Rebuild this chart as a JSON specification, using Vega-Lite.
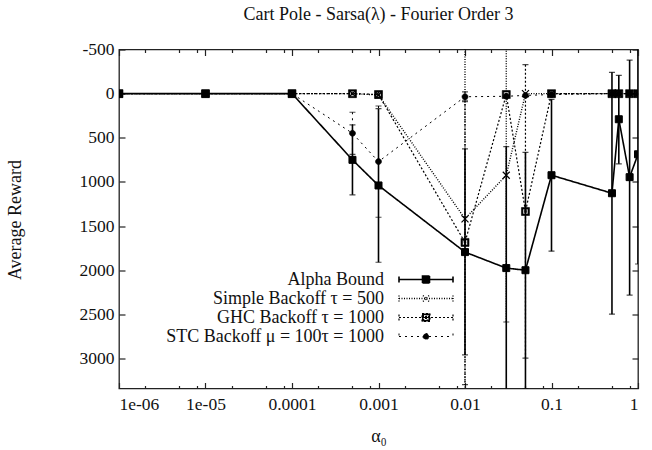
{
  "$schema": "https://vega.github.io/schema/vega-lite/v6.json",
  "autosize": {"type": "none"},
  "padding": {"left": 119, "top": 49.5, "right": 14, "bottom": 61.5},
  "width": 519,
  "height": 339,
  "title": {"text": "Cart Pole - Sarsa(λ) - Fourier Order 3", "fontSize": 18, "font": "Liberation Serif", "fontWeight": "normal", "offset": 17, "color": "#111"},
  "data": {"values": [
    {"series": "Alpha Bound", "x": 0.000001, "y": 0, "lo": null, "hi": null},
    {"series": "Alpha Bound", "x": 0.00001, "y": 0, "lo": null, "hi": null},
    {"series": "Alpha Bound", "x": 0.0001, "y": 0, "lo": null, "hi": null},
    {"series": "Alpha Bound", "x": 0.0005, "y": 750, "lo": 354, "hi": 1146},
    {"series": "Alpha Bound", "x": 0.001, "y": 1040, "lo": 170, "hi": 1910},
    {"series": "Alpha Bound", "x": 0.01, "y": 1795, "lo": 625, "hi": 2960},
    {"series": "Alpha Bound", "x": 0.03, "y": 1976, "lo": 600, "hi": 3352},
    {"series": "Alpha Bound", "x": 0.05, "y": 2000, "lo": 665, "hi": 3340},
    {"series": "Alpha Bound", "x": 0.1, "y": 924, "lo": 64, "hi": 1784},
    {"series": "Alpha Bound", "x": 0.5, "y": 1128, "lo": -242, "hi": 2498},
    {"series": "Alpha Bound", "x": 0.6, "y": 290, "lo": -207, "hi": 795},
    {"series": "Alpha Bound", "x": 0.8, "y": 946, "lo": -380, "hi": 2282},
    {"series": "Alpha Bound", "x": 1, "y": 687, "lo": -560, "hi": 1930},
    {"series": "Simple Backoff τ = 500", "x": 0.000001, "y": 0, "lo": null, "hi": null},
    {"series": "Simple Backoff τ = 500", "x": 0.00001, "y": 0, "lo": null, "hi": null},
    {"series": "Simple Backoff τ = 500", "x": 0.0001, "y": 0, "lo": null, "hi": null},
    {"series": "Simple Backoff τ = 500", "x": 0.0005, "y": 0, "lo": null, "hi": null},
    {"series": "Simple Backoff τ = 500", "x": 0.001, "y": 15, "lo": -20, "hi": 50},
    {"series": "Simple Backoff τ = 500", "x": 0.01, "y": 1418, "lo": -1100, "hi": 3940},
    {"series": "Simple Backoff τ = 500", "x": 0.03, "y": 924, "lo": -740, "hi": 2587},
    {"series": "Simple Backoff τ = 500", "x": 0.05, "y": 0, "lo": null, "hi": null},
    {"series": "Simple Backoff τ = 500", "x": 0.1, "y": 0, "lo": null, "hi": null},
    {"series": "Simple Backoff τ = 500", "x": 0.5, "y": 0, "lo": null, "hi": null},
    {"series": "Simple Backoff τ = 500", "x": 0.6, "y": 0, "lo": null, "hi": null},
    {"series": "Simple Backoff τ = 500", "x": 0.8, "y": 0, "lo": null, "hi": null},
    {"series": "Simple Backoff τ = 500", "x": 1, "y": 0, "lo": null, "hi": null},
    {"series": "GHC Backoff τ = 1000", "x": 0.000001, "y": 0, "lo": null, "hi": null},
    {"series": "GHC Backoff τ = 1000", "x": 0.00001, "y": 0, "lo": null, "hi": null},
    {"series": "GHC Backoff τ = 1000", "x": 0.0001, "y": 0, "lo": null, "hi": null},
    {"series": "GHC Backoff τ = 1000", "x": 0.0005, "y": 0, "lo": null, "hi": null},
    {"series": "GHC Backoff τ = 1000", "x": 0.001, "y": 10, "lo": null, "hi": null},
    {"series": "GHC Backoff τ = 1000", "x": 0.01, "y": 1685, "lo": 75, "hi": 3295},
    {"series": "GHC Backoff τ = 1000", "x": 0.03, "y": 10, "lo": null, "hi": null},
    {"series": "GHC Backoff τ = 1000", "x": 0.05, "y": 1335, "lo": -328, "hi": 2995},
    {"series": "GHC Backoff τ = 1000", "x": 0.1, "y": 0, "lo": null, "hi": null},
    {"series": "GHC Backoff τ = 1000", "x": 0.5, "y": 0, "lo": null, "hi": null},
    {"series": "GHC Backoff τ = 1000", "x": 0.6, "y": 0, "lo": null, "hi": null},
    {"series": "GHC Backoff τ = 1000", "x": 0.8, "y": 0, "lo": null, "hi": null},
    {"series": "GHC Backoff τ = 1000", "x": 1, "y": 0, "lo": null, "hi": null},
    {"series": "STC Backoff μ = 100τ = 1000", "x": 0.000001, "y": 0, "lo": null, "hi": null},
    {"series": "STC Backoff μ = 100τ = 1000", "x": 0.00001, "y": 0, "lo": null, "hi": null},
    {"series": "STC Backoff μ = 100τ = 1000", "x": 0.0001, "y": 0, "lo": null, "hi": null},
    {"series": "STC Backoff μ = 100τ = 1000", "x": 0.0005, "y": 449, "lo": 211, "hi": 687},
    {"series": "STC Backoff μ = 100τ = 1000", "x": 0.001, "y": 770, "lo": 140, "hi": 1400},
    {"series": "STC Backoff μ = 100τ = 1000", "x": 0.01, "y": 35, "lo": -20, "hi": 90},
    {"series": "STC Backoff μ = 100τ = 1000", "x": 0.03, "y": 30, "lo": null, "hi": null},
    {"series": "STC Backoff μ = 100τ = 1000", "x": 0.05, "y": 20, "lo": null, "hi": null},
    {"series": "STC Backoff μ = 100τ = 1000", "x": 0.1, "y": 10, "lo": null, "hi": null},
    {"series": "STC Backoff μ = 100τ = 1000", "x": 0.5, "y": 0, "lo": null, "hi": null},
    {"series": "STC Backoff μ = 100τ = 1000", "x": 0.6, "y": 0, "lo": null, "hi": null},
    {"series": "STC Backoff μ = 100τ = 1000", "x": 0.8, "y": 0, "lo": null, "hi": null},
    {"series": "STC Backoff μ = 100τ = 1000", "x": 1, "y": 0, "lo": null, "hi": null}
  ]},
  "resolve": {"axis": {"x": "independent", "y": "independent"}},
  "layer": [
    {
      "mark": {"type": "rule", "color": "black", "clip": true},
      "encoding": {
        "x": {"field": "x", "type": "quantitative", "scale": {"type": "log", "domain": [0.000001, 1], "nice": false},
              "axis": {"orient": "bottom", "values": [0.000001, 0.00001, 0.0001, 0.001, 0.01, 0.1, 1], "tickSize": -6, "labelPadding": 13,
                       "labelFont": "Liberation Serif", "labelFontSize": 17.5,
                       "labelExpr": "datum.value < 3e-6 ? '1e-06' : datum.value < 3e-5 ? '1e-05' : datum.value < 3e-4 ? '0.0001' : datum.value < 3e-3 ? '0.001' : datum.value < 0.03 ? '0.01' : datum.value < 0.3 ? '0.1' : '1'",
                       "title": "α₀", "titleX": 259.5, "titleY": 48, "titleBaseline": "middle", "titleFontSize": 18, "titleFont": "Liberation Serif"}},
        "y": {"field": "lo", "type": "quantitative", "scale": {"domain": [-500, 3340], "reverse": true, "nice": false, "zero": false},
              "axis": {"orient": "left", "values": [-500, 0, 500, 1000, 1500, 2000, 2500, 3000], "tickSize": -6, "labelPadding": 11,
                       "labelFont": "Liberation Serif", "labelFontSize": 17.5,
                       "labelExpr": "'' + datum.value", "title": "Average Reward", "titleX": -104, "titleY": 170, "titleBaseline": "middle", "titleFontSize": 18, "titleFont": "Liberation Serif"}},
        "y2": {"field": "hi"},
        "strokeDash": {"field": "series", "type": "nominal",
          "scale": {"domain": ["Alpha Bound", "Simple Backoff τ = 500", "GHC Backoff τ = 1000", "STC Backoff μ = 100τ = 1000"], "range": [[1, 0], [1, 1.5], [2, 2], [2, 4]]},
          "legend": {"orient": "none", "legendX": 298, "legendY": 221, "title": null, "padding": 0, "rowPadding": 1,
            "symbolSize": 4, "symbolFillColor": "black", "symbolStrokeColor": "black", "symbolStrokeWidth": 1.3, "symbolOpacity": 1,
            "labelAlign": "right", "labelOffset": -51,
            "labelFont": "Liberation Serif", "labelFontSize": 18, "labelColor": "#111", "labelLimit": 400}},
        "strokeWidth": {"field": "series", "type": "nominal", "scale": {"domain": ["Alpha Bound", "Simple Backoff τ = 500", "GHC Backoff τ = 1000", "STC Backoff μ = 100τ = 1000"], "range": [1.6, 1, 1.5, 1.6]}, "legend": null}
      }
    },
    {
      "mark": {"type": "tick", "orient": "horizontal", "color": "black", "size": 6, "thickness": 1.2, "clip": true},
      "encoding": {
        "x": {"field": "x", "type": "quantitative", "axis": {"orient": "top", "values": [0.000001, 0.00001, 0.0001, 0.001, 0.01, 0.1, 1], "tickSize": -6, "labels": false, "title": null}},
        "y": {"field": "lo", "type": "quantitative", "axis": {"orient": "right", "values": [-500, 0, 500, 1000, 1500, 2000, 2500, 3000], "tickSize": -6, "labels": false, "title": null}}
      }
    },
    {
      "mark": {"type": "tick", "orient": "horizontal", "color": "black", "size": 6, "thickness": 1.2, "clip": true},
      "encoding": {
        "x": {"field": "x", "type": "quantitative", "axis": {"orient": "bottom", "values": [0.000002, 0.000005, 0.000008, 0.00002, 0.00005, 0.00008, 0.0002, 0.0005, 0.0008, 0.002, 0.005, 0.008, 0.02, 0.05, 0.08, 0.2, 0.5, 0.8], "tickSize": -3, "labels": false, "title": null}},
        "y": {"field": "hi", "type": "quantitative", "axis": null}
      }
    },
    {
      "mark": {"type": "line", "color": "black", "clip": true},
      "encoding": {
        "x": {"field": "x", "type": "quantitative", "axis": {"orient": "top", "values": [0.000002, 0.000005, 0.000008, 0.00002, 0.00005, 0.00008, 0.0002, 0.0005, 0.0008, 0.002, 0.005, 0.008, 0.02, 0.05, 0.08, 0.2, 0.5, 0.8], "tickSize": -3, "labels": false, "title": null}},
        "y": {"field": "y", "type": "quantitative", "axis": null},
        "strokeDash": {"field": "series", "type": "nominal"},
        "strokeWidth": {"field": "series", "type": "nominal", "legend": null},
        "detail": {"field": "series"}
      }
    },
    {
      "transform": [{"filter": {"field": "series", "equal": "Alpha Bound"}}],
      "mark": {"type": "point", "shape": "M-3.5,-3.5H3.5V3.5H-3.5Z", "filled": true, "fill": "black", "stroke": "black", "strokeWidth": 1, "opacity": 1, "size": 4, "clip": true},
      "encoding": {
        "x": {"field": "x", "type": "quantitative", "axis": null},
        "y": {"field": "y", "type": "quantitative", "axis": null}
      }
    },
    {
      "transform": [{"filter": {"field": "series", "equal": "Simple Backoff τ = 500"}}],
      "mark": {"type": "point", "shape": "M-3.5,-3.5L3.5,3.5M-3.5,3.5L3.5,-3.5", "filled": false, "stroke": "black", "strokeWidth": 1.2, "opacity": 1, "size": 4, "clip": true},
      "encoding": {
        "x": {"field": "x", "type": "quantitative", "axis": null},
        "y": {"field": "y", "type": "quantitative", "axis": null}
      }
    },
    {
      "transform": [{"filter": {"field": "series", "equal": "GHC Backoff τ = 1000"}}],
      "mark": {"type": "point", "shape": "M-4,-4H4V4H-4ZM-2.5,-2.5V2.5H2.5V-2.5ZM-1,-1H1V1H-1Z", "filled": true, "fill": "black", "stroke": "black", "strokeWidth": 0.6, "opacity": 1, "size": 4, "clip": true},
      "encoding": {
        "x": {"field": "x", "type": "quantitative", "axis": null},
        "y": {"field": "y", "type": "quantitative", "axis": null}
      }
    },
    {
      "transform": [{"filter": {"field": "series", "equal": "STC Backoff μ = 100τ = 1000"}}],
      "mark": {"type": "point", "shape": "M-3,0A3,3,0,1,0,3,0A3,3,0,1,0,-3,0Z", "filled": true, "fill": "black", "stroke": "black", "strokeWidth": 0.6, "opacity": 1, "size": 4, "clip": true},
      "encoding": {
        "x": {"field": "x", "type": "quantitative", "axis": null},
        "y": {"field": "y", "type": "quantitative", "axis": null}
      }
    },
    {
      "transform": [{"filter": "false"}],
      "mark": {"type": "point", "filled": true, "fill": "black", "stroke": "black", "strokeWidth": 1.2, "opacity": 1, "size": 4},
      "encoding": {
        "x": {"field": "x", "type": "quantitative", "axis": null},
        "y": {"field": "y", "type": "quantitative", "axis": null},
        "shape": {"field": "series", "type": "nominal",
          "scale": {"domain": ["Alpha Bound", "Simple Backoff τ = 500", "GHC Backoff τ = 1000", "STC Backoff μ = 100τ = 1000"],
                    "range": ["M-27,0H27M-27,-3V3M27,-3V3M-3.5,-3.5H3.5V3.5H-3.5Z", "M-27,0H27M-27,-3V3M27,-3V3M-3,-3L3,3M-3,3L3,-3", "M-27,0H27M-27,-3V3M27,-3V3M-4,-4H4V4H-4ZM-2.5,-2.5V2.5H2.5V-2.5ZM-1,-1H1V1H-1Z", "M-27,0H27M-27,-3V3M27,-3V3M-3,0A3,3,0,1,0,3,0A3,3,0,1,0,-3,0Z"]}}
      }
    }
  ],
  "config": {
    "font": "Liberation Serif",
    "view": {"stroke": "#222", "strokeWidth": 1.3},
    "axis": {"domain": false, "grid": false, "labelFont": "Liberation Serif", "labelFontSize": 17.5, "labelColor": "#111", "tickColor": "#222", "tickWidth": 1.2, "titleFont": "Liberation Serif", "titleFontWeight": "normal", "titleColor": "#111"},
    "legend": {"labelFont": "Liberation Serif"}
  }
}
